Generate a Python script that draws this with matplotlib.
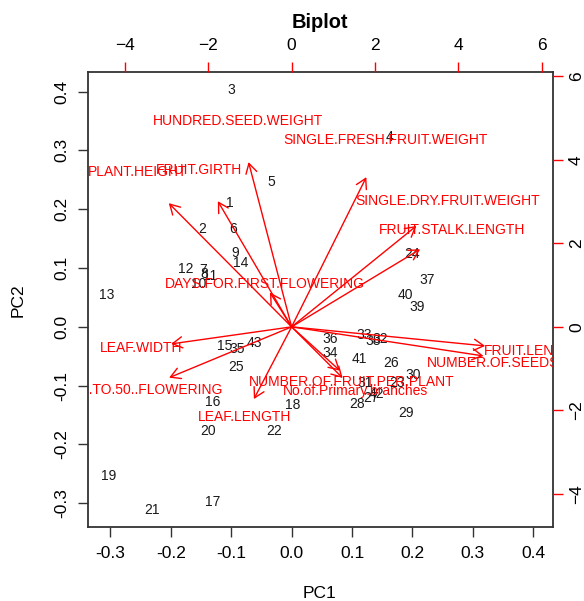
import matplotlib

matplotlib.use("Agg")
import matplotlib.pyplot as plt
from matplotlib.patches import FancyArrowPatch

plt.rcParams["font.family"] = ["Liberation Sans", "DejaVu Sans"]

# PCA scores of the 43 genotypes (PC1, PC2)
obs_labels = [str(i) for i in range(1, 44)]
pc1 = [-0.102, -0.148, -0.100, 0.162, -0.034, -0.096, -0.147, -0.144, -0.093, -0.154,
       -0.135, -0.175, -0.306, -0.085, -0.110, -0.131, -0.130, 0.002, -0.302, -0.139,
       -0.231, -0.029, 0.174, 0.199, -0.092, 0.164, 0.131, 0.109, 0.190, 0.201,
       0.121, 0.146, 0.120, 0.064, -0.090, 0.064, 0.225, 0.135, 0.207, 0.188,
       0.112, 0.140, -0.061]
pc2 = [0.211, 0.166, 0.403, 0.322, 0.246, 0.166, 0.096, 0.089, 0.125, 0.073,
       0.086, 0.098, 0.054, 0.108, -0.032, -0.128, -0.298, -0.133, -0.254, -0.177,
       -0.312, -0.177, -0.096, 0.123, -0.068, -0.061, -0.121, -0.131, -0.147, -0.082,
       -0.096, -0.020, -0.014, -0.044, -0.038, -0.020, 0.080, -0.024, 0.033, 0.054,
       -0.055, -0.114, -0.028]

# variable loadings (top / right axis units)
var_names = ["HUNDRED.SEED.WEIGHT", "SINGLE.FRESH.FRUIT.WEIGHT", "FRUIT.GIRTH",
             "PLANT.HEIGHT", "DAYS.FOR.FIRST.FLOWERING", "SINGLE.DRY.FRUIT.WEIGHT",
             "FRUIT.STALK.LENGTH", "FRUIT.LENGTH", "NUMBER.OF.SEEDS.PER.FRUIT",
             "LEAF.WIDTH", "DAYS.TO.50..FLOWERING", "LEAF.LENGTH",
             "NUMBER.OF.FRUIT.PER.PLANT", "No.of.Primary.branches"]
load1 = [-1.29, 2.24, -2.21, -3.68, -0.65, 3.74, 3.85, 5.80, 5.75, -3.61, -3.67, -1.13, 1.45, 1.53]
load2 = [4.93, 4.48, 3.76, 3.70, 1.03, 3.02, 2.32, -0.57, -0.87, -0.51, -1.52, -2.16, -1.31, -1.53]

score_ticks = [-0.3, -0.2, -0.1, 0.0, 0.1, 0.2, 0.3, 0.4]
var_ticks = [-4, -2, 0, 2, 4, 6]

fig = plt.figure(figsize=(5.84, 6.01), dpi=100)
rect = [88 / 584, 1 - 527 / 601, 465 / 584, 455 / 601]
ax = fig.add_axes(rect)
ax.set_xlim(-0.3369, 0.4325)
ax.set_ylim(-0.3405, 0.4333)
ax.set_xticks(score_ticks)
ax.set_yticks(score_ticks)
ax.set_xticklabels([f"{t:.1f}" for t in score_ticks])
ax.set_yticklabels([f"{t:.1f}" for t in score_ticks])
ax.tick_params(direction="out", length=7.5, width=1, labelsize=12.5, color="#333333")
ax.tick_params(axis="x", pad=6)
ax.tick_params(axis="y", pad=6, labelrotation=90)
for lab in ax.get_yticklabels():
    lab.set_va("center")
for sp in ax.spines.values():
    sp.set_linewidth(1.3)
    sp.set_color("#333333")

for x, y, s in zip(pc1, pc2, obs_labels):
    ax.text(x, y, s, ha="center", va="center", fontsize=10, color="#1a1a1a", clip_on=True)

ax2 = fig.add_axes(rect, frameon=False)
ax2.set_xlim(-4.881, 6.267)
ax2.set_ylim(-4.79, 6.10)
ax2.xaxis.tick_top()
ax2.yaxis.tick_right()
ax2.set_xticks(var_ticks)
ax2.set_yticks(var_ticks)
ax2.tick_params(direction="out", length=7.5, width=1, labelsize=12.5, color="red")
ax2.tick_params(axis="x", pad=6)
ax2.tick_params(axis="y", pad=4, labelrotation=90)
for lab in ax2.get_yticklabels():
    lab.set_va("center")

for x, y, name in zip(load1, load2, var_names):
    arr = FancyArrowPatch((0, 0), (0.8 * x, 0.8 * y),
                          arrowstyle="->,head_length=7,head_width=4",
                          mutation_scale=1, shrinkA=0, shrinkB=0,
                          color="red", lw=1)
    ax2.add_patch(arr)
    ax2.text(x, y, name, ha="center", va="center", fontsize=10, color="red", clip_on=True)

fig.text(320 / 584, 1 - 22 / 601, "Biplot", ha="center", va="center",
         fontsize=14.4, fontweight="bold")
fig.text(320 / 584, 1 - 594 / 601, "PC1", ha="center", va="center", fontsize=12.5)
fig.text(18 / 584, 1 - 300 / 601, "PC2", ha="center", va="center", fontsize=12.5,
         rotation=90)

fig.savefig("out.png", dpi=100)
